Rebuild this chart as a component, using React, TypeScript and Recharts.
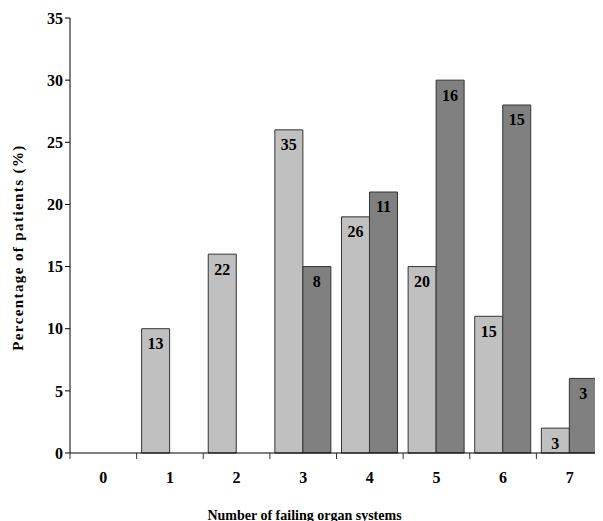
import React from 'react';
import { BarChart, Bar, XAxis, YAxis, LabelList } from 'recharts';

const categories = ['0', '1', '2', '3', '4', '5', '6', '7'];
const lightValues = [0, 10, 16, 26, 19, 15, 11, 2];
const darkValues = [0, 0, 0, 15, 21, 30, 28, 6];
const lightCounts = [null, 13, 22, 35, 26, 20, 15, 3];
const darkCounts = [null, null, null, 8, 11, 16, 15, 3];
const yTicks = [0, 5, 10, 15, 20, 25, 30, 35];

const data = categories.map((c, i) => ({
  cat: c,
  light: lightValues[i],
  dark: darkValues[i],
  lightN: lightCounts[i],
  darkN: darkCounts[i],
}));

const W = 596;
const H = 513;
const M = { top: 10, right: 1, left: 0, bottom: 0 };
const YW = 62;
const FONT = '"Liberation Serif", "Times New Roman", serif';

const XTick = (props: any) => {
  const { x, y, payload, index } = props;
  const bw = (W - M.left - M.right - YW) / categories.length;
  const ay = y - 6;
  return (
    <g>
      <line x1={x - bw / 2} x2={x - bw / 2} y1={ay} y2={ay + 6} stroke="#333" />
      {index === categories.length - 1 && (
        <line x1={x + bw / 2} x2={x + bw / 2} y1={ay} y2={ay + 6} stroke="#333" />
      )}
      <text x={x} y={ay + 30} textAnchor="middle" fontFamily={FONT} fontWeight="bold" fontSize={16} fill="#000">
        {payload.value}
      </text>
    </g>
  );
};

const YTitle = (props: any) => {
  const vb = props.viewBox || {};
  const cx = 10;
  const cy = (vb.y || 0) + (vb.height || 0) / 2 + 12;
  return (
    <text
      x={cx}
      y={cy}
      transform={`rotate(-90, ${cx}, ${cy})`}
      textAnchor="middle"
      dominantBaseline="central"
      fontFamily={FONT}
      fontWeight="bold"
      fontSize={15}
      letterSpacing={1.4}
      fill="#000"
    >
      Percentage of patients (%)
    </text>
  );
};

export default function App() {
  return (
    <BarChart width={W} height={H} data={data} margin={M} barCategoryGap="7.5%" barGap={0}>
      <XAxis
        dataKey="cat"
        xAxisId="top"
        orientation="top"
        height={0}
        tick={false}
        tickLine={false}
        axisLine={{ stroke: '#000' }}
      />
      <XAxis
        dataKey="cat"
        height={68}
        tickSize={6}
        tickMargin={0}
        tickLine={false}
        axisLine={{ stroke: '#000' }}
        tick={<XTick />}
        label={{
          value: 'Number of failing organ systems',
          position: 'insideBottom',
          offset: 1,
          dx: -32,
          style: { fontFamily: FONT, fontWeight: 'bold', fontSize: 14, fill: '#000' },
        }}
      />
      <YAxis
        domain={[0, 35]}
        ticks={yTicks}
        width={YW}
        tickSize={5}
        tickMargin={2}
        interval={0}
        axisLine={{ stroke: '#000' }}
        tickLine={{ stroke: '#000' }}
        tick={{ fontFamily: FONT, fontWeight: 'bold', fontSize: 16, fill: '#000' }}
        label={<YTitle />}
      />
      <YAxis
        yAxisId="right"
        orientation="right"
        width={0}
        domain={[0, 35]}
        tick={false}
        tickLine={false}
        axisLine={{ stroke: '#aaa' }}
      />
      <Bar dataKey="light" fill="#C0C0C0" stroke="#333" strokeWidth={1} isAnimationActive={false}>
        <LabelList
          dataKey="lightN"
          position="insideTop"
          offset={9}
          style={{ fontFamily: FONT, fontWeight: 'bold', fontSize: 16, fill: '#000' }}
        />
      </Bar>
      <Bar dataKey="dark" fill="#808080" stroke="#333" strokeWidth={1} isAnimationActive={false}>
        <LabelList
          dataKey="darkN"
          position="insideTop"
          offset={9}
          style={{ fontFamily: FONT, fontWeight: 'bold', fontSize: 16, fill: '#000' }}
        />
      </Bar>
    </BarChart>
  );
}
